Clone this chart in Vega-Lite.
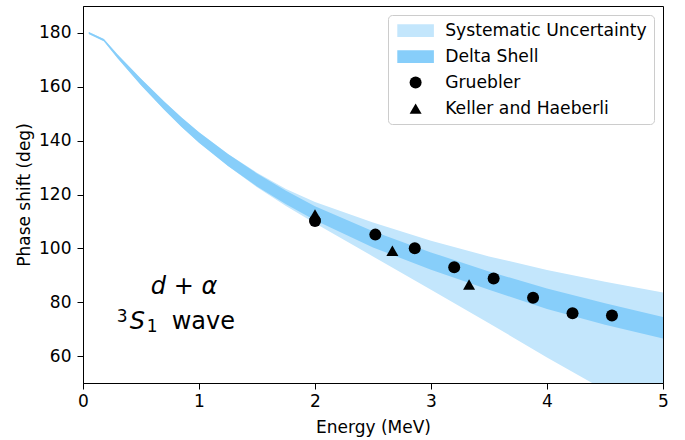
{
  "$schema": "https://vega.github.io/schema/vega-lite/v6.json",
  "width": 580,
  "height": 377,
  "autosize": {"type": "none"},
  "padding": {"left": 83, "top": 6, "right": 22, "bottom": 57},
  "background": "white",
  "config": {
    "font": "DejaVu Sans",
    "view": {"stroke": "black", "strokeWidth": 1},
    "axis": {
      "grid": false,
      "domainColor": "black",
      "tickColor": "black",
      "tickSize": 6,
      "labelColor": "black",
      "labelFont": "DejaVu Sans",
      "labelFontSize": 17,
      "labelFlush": false,
      "labelOverlap": false,
      "titleFont": "DejaVu Sans",
      "titleFontSize": 17,
      "titleFontWeight": "normal",
      "titleColor": "black"
    },
    "legend": {
      "labelFont": "DejaVu Sans",
      "labelFontSize": 17.2,
      "labelColor": "black",
      "labelLimit": 400
    }
  },
  "datasets": {
    "bands": [
      {"E": 0.05, "lo": 179.6, "hi": 180.3, "series": "Delta Shell"},
      {"E": 0.18, "lo": 176.9, "hi": 177.7, "series": "Delta Shell"},
      {"E": 0.3, "lo": 170.5, "hi": 171.9, "series": "Delta Shell"},
      {"E": 0.5, "lo": 160.6, "hi": 163.0, "series": "Delta Shell"},
      {"E": 0.7, "lo": 151.45, "hi": 154.55, "series": "Delta Shell"},
      {"E": 0.85, "lo": 145.1, "hi": 148.6, "series": "Delta Shell"},
      {"E": 1.0, "lo": 139.2, "hi": 143.1, "series": "Delta Shell"},
      {"E": 1.25, "lo": 130.6, "hi": 135.0, "series": "Delta Shell"},
      {"E": 1.5, "lo": 123.0, "hi": 127.8, "series": "Delta Shell"},
      {"E": 1.75, "lo": 116.35, "hi": 121.35, "series": "Delta Shell"},
      {"E": 2.0, "lo": 110.45, "hi": 115.65, "series": "Delta Shell"},
      {"E": 2.5, "lo": 100.35, "hi": 106.35, "series": "Delta Shell"},
      {"E": 3.0, "lo": 92.1, "hi": 98.5, "series": "Delta Shell"},
      {"E": 3.5, "lo": 84.6, "hi": 91.4, "series": "Delta Shell"},
      {"E": 4.0, "lo": 77.5, "hi": 85.1, "series": "Delta Shell"},
      {"E": 4.5, "lo": 71.6, "hi": 79.6, "series": "Delta Shell"},
      {"E": 5.0, "lo": 66.5, "hi": 74.5, "series": "Delta Shell"},
      {"E": 0.05, "lo": 179.6, "hi": 180.3, "series": "Systematic Uncertainty"},
      {"E": 0.18, "lo": 176.9, "hi": 177.7, "series": "Systematic Uncertainty"},
      {"E": 0.3, "lo": 170.5, "hi": 171.9, "series": "Systematic Uncertainty"},
      {"E": 0.5, "lo": 160.6, "hi": 163.0, "series": "Systematic Uncertainty"},
      {"E": 0.7, "lo": 151.45, "hi": 154.55, "series": "Systematic Uncertainty"},
      {"E": 0.85, "lo": 145.1, "hi": 148.6, "series": "Systematic Uncertainty"},
      {"E": 1.0, "lo": 139.2, "hi": 143.1, "series": "Systematic Uncertainty"},
      {"E": 1.25, "lo": 130.55, "hi": 135.05, "series": "Systematic Uncertainty"},
      {"E": 1.5, "lo": 122.7, "hi": 128.1, "series": "Systematic Uncertainty"},
      {"E": 1.75, "lo": 115.7, "hi": 122.0, "series": "Systematic Uncertainty"},
      {"E": 2.0, "lo": 109.3, "hi": 117.2, "series": "Systematic Uncertainty"},
      {"E": 2.5, "lo": 97.0, "hi": 109.6, "series": "Systematic Uncertainty"},
      {"E": 3.0, "lo": 84.6, "hi": 102.8, "series": "Systematic Uncertainty"},
      {"E": 3.5, "lo": 72.2, "hi": 97.0, "series": "Systematic Uncertainty"},
      {"E": 4.0, "lo": 59.5, "hi": 92.0, "series": "Systematic Uncertainty"},
      {"E": 4.5, "lo": 47.3, "hi": 87.6, "series": "Systematic Uncertainty"},
      {"E": 5.0, "lo": 35.3, "hi": 83.6, "series": "Systematic Uncertainty"}
    ],
    "points": [
      {"E": 2.0, "phase": 110.2, "series": "Gruebler"},
      {"E": 2.52, "phase": 105.1, "series": "Gruebler"},
      {"E": 2.86, "phase": 100.0, "series": "Gruebler"},
      {"E": 3.2, "phase": 93.0, "series": "Gruebler"},
      {"E": 3.54, "phase": 88.8, "series": "Gruebler"},
      {"E": 3.88, "phase": 81.7, "series": "Gruebler"},
      {"E": 4.22, "phase": 75.9, "series": "Gruebler"},
      {"E": 4.56, "phase": 75.1, "series": "Gruebler"},
      {"E": 2.0, "phase": 112.6, "series": "Keller and Haeberli"},
      {"E": 2.667, "phase": 99.1, "series": "Keller and Haeberli"},
      {"E": 3.328, "phase": 86.6, "series": "Keller and Haeberli"}
    ],
    "anno": [
      {"E": 0.765, "y": 70.06}
    ]
  },
  "layer": [
    {
      "data": {"name": "bands"},
      "transform": [{"filter": "datum.series === 'Systematic Uncertainty'"}],
      "mark": {"type": "area", "clip": true, "opacity": 1, "interpolate": "linear"},
      "encoding": {
        "x": {"field": "E", "type": "quantitative", "scale": {"domain": [0, 5], "nice": false}, "axis": {"values": [0, 1, 2, 3, 4, 5], "format": "d", "title": "Energy (MeV)", "labelPadding": 4, "titlePadding": 10}},
        "y": {"field": "lo", "type": "quantitative", "scale": {"domain": [50, 190], "nice": false, "zero": false}, "axis": {"values": [60, 80, 100, 120, 140, 160, 180], "format": "d", "title": "Phase shift (deg)", "labelPadding": 6, "titlePadding": 5}},
        "y2": {"field": "hi"},
        "color": {"field": "series", "type": "nominal"}
      }
    },
    {
      "data": {"name": "bands"},
      "transform": [{"filter": "datum.series === 'Delta Shell'"}],
      "mark": {"type": "area", "clip": true, "opacity": 1, "interpolate": "linear"},
      "encoding": {
        "x": {"field": "E", "type": "quantitative"},
        "y": {"field": "lo", "type": "quantitative"},
        "y2": {"field": "hi"},
        "color": {"field": "series", "type": "nominal"}
      }
    },
    {
      "data": {"name": "points"},
      "mark": {"type": "point", "filled": true, "opacity": 1, "size": 144, "strokeWidth": 0},
      "encoding": {
        "x": {"field": "E", "type": "quantitative"},
        "y": {"field": "phase", "type": "quantitative"},
        "color": {
          "field": "series", "type": "nominal",
          "scale": {
            "domain": ["Systematic Uncertainty", "Delta Shell", "Gruebler", "Keller and Haeberli"],
            "range": ["#c3e6fc", "#87cefa", "#000000", "#000000"]
          },
          "legend": {
            "title": null,
            "orient": "top-right",
            "offset": 9,
            "fillColor": "white",
            "strokeColor": "#cccccc",
            "cornerRadius": 4,
            "padding": 7,
            "rowPadding": 8,
            "symbolSize": 144,
            "symbolOffset": 12,
            "labelOffset": 21,
            "symbolStrokeWidth": 0,
            "symbolOpacity": 1
          }
        },
        "shape": {
          "field": "series", "type": "nominal",
          "scale": {
            "domain": ["Systematic Uncertainty", "Delta Shell", "Gruebler", "Keller and Haeberli"],
            "range": ["M-3.05,-1.05H3.05V1.05H-3.05Z", "M-3.05,-1.05H3.05V1.05H-3.05Z", "circle", "triangle-up"]
          },
          "legend": {
            "title": null,
            "orient": "top-right",
            "offset": 9,
            "fillColor": "white",
            "strokeColor": "#cccccc",
            "cornerRadius": 4,
            "padding": 7,
            "rowPadding": 8,
            "symbolSize": 144,
            "symbolOffset": 12,
            "labelOffset": 21,
            "symbolStrokeWidth": 0,
            "symbolOpacity": 1
          }
        }
      }
    },
    {
      "data": {"values": [{"E": 0.871, "y": 83.05, "label": "d + α"}]},
      "mark": {"type": "text", "fontSize": 24, "fontStyle": "italic", "font": "DejaVu Sans", "color": "black", "baseline": "alphabetic", "align": "center"},
      "encoding": {
        "x": {"field": "E", "type": "quantitative"},
        "y": {"field": "y", "type": "quantitative"},
        "text": {"field": "label"}
      }
    },
    {
      "data": {"name": "anno"},
      "mark": {"type": "text", "fontSize": 24, "font": "DejaVu Sans", "color": "black", "baseline": "alphabetic", "align": "left", "text": "wave"},
      "encoding": {
        "x": {"field": "E", "type": "quantitative"},
        "y": {"field": "y", "type": "quantitative"}
      }
    },
    {
      "data": {"name": "anno"},
      "mark": {"type": "text", "fontSize": 24, "fontStyle": "italic", "font": "DejaVu Sans", "color": "black", "baseline": "alphabetic", "align": "left", "text": "S", "dx": -42},
      "encoding": {
        "x": {"field": "E", "type": "quantitative"},
        "y": {"field": "y", "type": "quantitative"}
      }
    },
    {
      "data": {"name": "anno"},
      "mark": {"type": "text", "fontSize": 17, "font": "DejaVu Sans", "color": "black", "baseline": "alphabetic", "align": "left", "text": "3", "dx": -55, "dy": -7},
      "encoding": {
        "x": {"field": "E", "type": "quantitative"},
        "y": {"field": "y", "type": "quantitative"}
      }
    },
    {
      "data": {"name": "anno"},
      "mark": {"type": "text", "fontSize": 17, "font": "DejaVu Sans", "color": "black", "baseline": "alphabetic", "align": "left", "text": "1", "dx": -25, "dy": 3},
      "encoding": {
        "x": {"field": "E", "type": "quantitative"},
        "y": {"field": "y", "type": "quantitative"}
      }
    }
  ]
}
